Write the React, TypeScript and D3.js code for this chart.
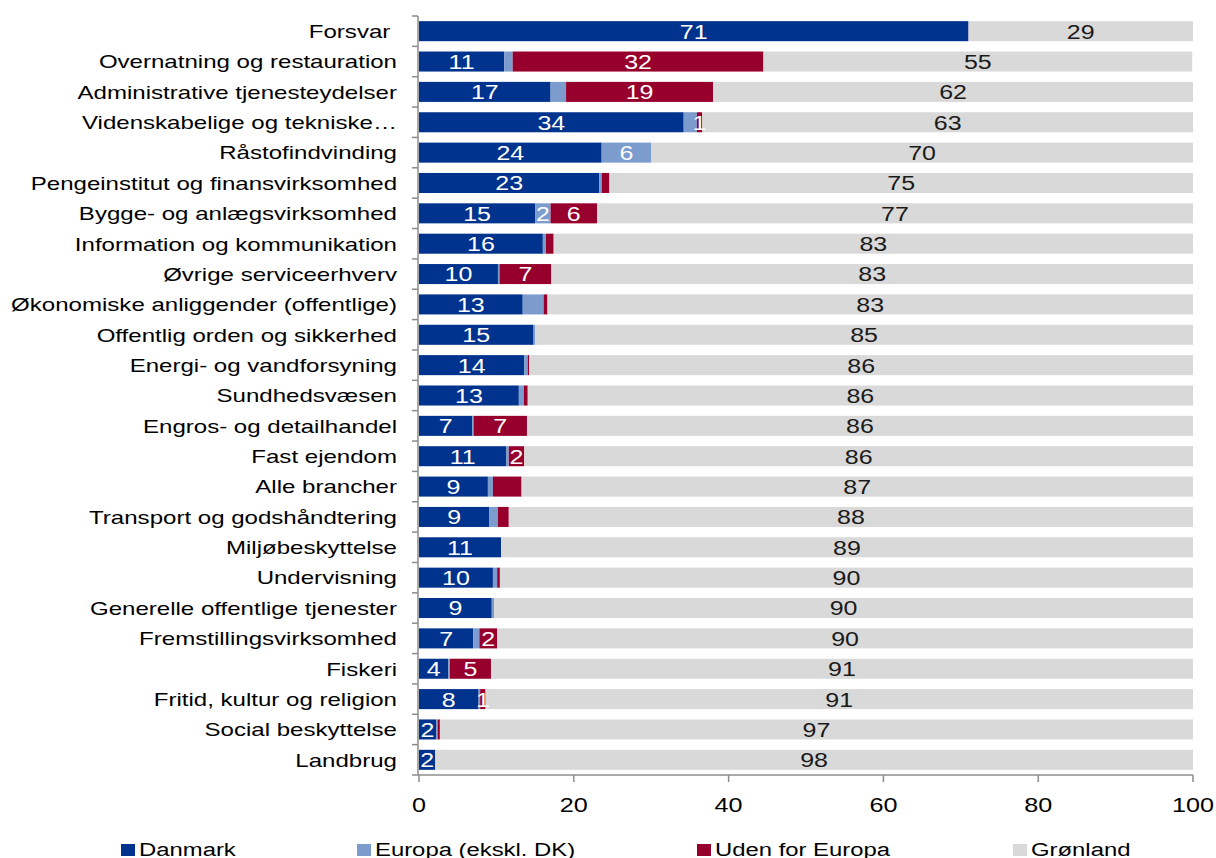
import React from "react";
import * as d3 from "d3";

const categories = [
  "Forsvar ",
  "Overnatning og restauration",
  "Administrative tjenesteydelser",
  "Videnskabelige og tekniske…",
  "Råstofindvinding",
  "Pengeinstitut og finansvirksomhed",
  "Bygge- og anlægsvirksomhed",
  "Information og kommunikation",
  "Øvrige serviceerhverv",
  "Økonomiske anliggender (offentlige)",
  "Offentlig orden og sikkerhed",
  "Energi- og vandforsyning",
  "Sundhedsvæsen",
  "Engros- og detailhandel",
  "Fast ejendom",
  "Alle brancher",
  "Transport og godshåndtering",
  "Miljøbeskyttelse",
  "Undervisning",
  "Generelle offentlige tjenester",
  "Fremstillingsvirksomhed",
  "Fiskeri",
  "Fritid, kultur og religion",
  "Social beskyttelse",
  "Landbrug",
];

const danmark = [71, 11, 17, 34.2, 23.6, 23.3, 15, 16, 10.2, 13.4, 14.8, 13.6, 12.9, 6.9, 11.3, 8.9, 9.1, 10.6, 9.55, 9.4, 7.0, 3.8, 7.7, 2.2, 2.1];
const europa = [0, 1.1, 2.0, 1.7, 6.4, 0.3, 2.0, 0.4, 0.2, 2.7, 0.2, 0.45, 0.65, 0.15, 0.3, 0.65, 1.1, 0, 0.55, 0.3, 0.8, 0.2, 0.2, 0.2, 0];
const udenForEuropa = [0, 32.4, 19, 0.7, 0, 1.0, 6.0, 1.0, 6.7, 0.5, 0, 0.2, 0.5, 6.9, 2.0, 3.7, 1.4, 0, 0.35, 0, 2.3, 5.3, 0.7, 0.3, 0];
const gronland = [29, 55.4, 62, 63.4, 70, 75.4, 77, 82.6, 82.9, 83.4, 85, 85.75, 85.95, 86.05, 86.4, 86.75, 88.4, 89.4, 89.55, 90.3, 89.9, 90.7, 91.4, 97.3, 97.9];

const seriesNames = ["Danmark", "Europa (ekskl. DK)", "Uden for Europa", "Grønland"];
const seriesKeys = ["danmark", "europa", "uden", "gronland"];
const seriesColors = ["#00338D", "#7B9CCD", "#97002D", "#D9D9D9"];
const labelColors = ["#FFFFFF", "#FFFFFF", "#FFFFFF", "#1A1A1A"];

// which segments carry a data label (Danmark and Grønland: all)
const europaLabeled = ["Råstofindvinding", "Bygge- og anlægsvirksomhed"];
const udenLabeled = [
  "Overnatning og restauration",
  "Administrative tjenesteydelser",
  "Videnskabelige og tekniske…",
  "Bygge- og anlægsvirksomhed",
  "Øvrige serviceerhverv",
  "Engros- og detailhandel",
  "Fast ejendom",
  "Fremstillingsvirksomhed",
  "Fiskeri",
  "Fritid, kultur og religion",
];

const xTicks = [0, 20, 40, 60, 80, 100];

const FONT = "'Liberation Sans', Arial, sans-serif";

function T({ x, y, anchor = "middle", size, sx = 1.26, fill = "#000", children }: any) {
  return (
    <text
      transform={`translate(${x},${y}) scale(${sx},1)`}
      textAnchor={anchor}
      fontSize={size}
      fill={fill}
      fontFamily={FONT}
      style={{ whiteSpace: "pre" }}
    >
      {children}
    </text>
  );
}

export default function App() {
  const W = 1216;
  const H = 858;
  const x0 = 419;
  const x1 = 1193;
  const yTop = 16;
  const yBot = 775;

  const rows = categories.map((c, i) => ({
    cat: c,
    danmark: danmark[i],
    europa: europa[i],
    uden: udenForEuropa[i],
    gronland: gronland[i],
  }));

  const x = d3.scaleLinear().domain([0, 100]).range([x0, x1]);
  const y = d3
    .scaleBand<string>()
    .domain(categories)
    .range([yTop, yBot])
    .paddingInner(0.34)
    .paddingOuter(0.17);

  const stacked = d3.stack<any>().keys(seriesKeys)(rows);
  const step = y.step();
  const axisColor = "#8C8C8C";

  const isLabeled = (k: number, cat: string) => {
    if (k === 0 || k === 3) return true;
    if (k === 1) return europaLabeled.includes(cat);
    return udenLabeled.includes(cat);
  };

  const legendX = [121, 357, 697, 1013];

  return (
    <svg
      width={W}
      height={H}
      style={{ position: "absolute", left: 0, top: 0, display: "block", background: "#fff" }}
    >
      {/* bars */}
      {stacked.map((s, k) => (
        <g key={seriesKeys[k]}>
          {s.map((d: any) => (
            <rect
              key={d.data.cat}
              x={x(d[0])}
              y={y(d.data.cat)}
              width={Math.max(0, x(d[1]) - x(d[0]))}
              height={y.bandwidth()}
              fill={seriesColors[k]}
            />
          ))}
        </g>
      ))}
      {/* data labels */}
      {stacked.map((s, k) => (
        <g key={"l" + seriesKeys[k]}>
          {s.map((d: any) => {
            const v = d[1] - d[0];
            if (v <= 0 || !isLabeled(k, d.data.cat)) return null;
            const cy = (y(d.data.cat) as number) + y.bandwidth() / 2;
            return (
              <T key={d.data.cat} x={x((d[0] + d[1]) / 2)} y={cy + 7.4} size={20.5} sx={1.22} fill={labelColors[k]}>
                {String(Math.round(v))}
              </T>
            );
          })}
        </g>
      ))}
      {/* y axis */}
      <line x1={x0 - 1} x2={x0 - 1} y1={yTop} y2={yBot} stroke={axisColor} strokeWidth={1.5} />
      {d3.range(categories.length + 1).map((i) => (
        <line
          key={"yt" + i}
          x1={x0 - 7}
          x2={x0 - 1}
          y1={yTop + i * step}
          y2={yTop + i * step}
          stroke={axisColor}
          strokeWidth={1.5}
        />
      ))}
      {categories.map((c) => (
        <T key={"c" + c} x={397} y={(y(c) as number) + y.bandwidth() / 2 + 6.8} anchor="end" size={18.8} sx={1.28} fill="#000">
          {c}
        </T>
      ))}
      {/* x axis */}
      <line x1={x0 - 1} x2={x1} y1={yBot} y2={yBot} stroke={axisColor} strokeWidth={1.5} />
      {xTicks.map((t) => (
        <g key={"xt" + t}>
          <line x1={x(t)} x2={x(t)} y1={yBot} y2={yBot + 7} stroke={axisColor} strokeWidth={1.5} />
          <T x={x(t)} y={812} size={20} fill="#000">
            {String(t)}
          </T>
        </g>
      ))}
      {/* legend */}
      {seriesNames.map((n, k) => (
        <g key={"lg" + k}>
          <rect x={legendX[k]} y={844} width={14} height={12} fill={seriesColors[k]} />
          <T x={legendX[k] + 18} y={856} anchor="start" size={18.8} sx={1.27} fill="#000">
            {n}
          </T>
        </g>
      ))}
    </svg>
  );
}
